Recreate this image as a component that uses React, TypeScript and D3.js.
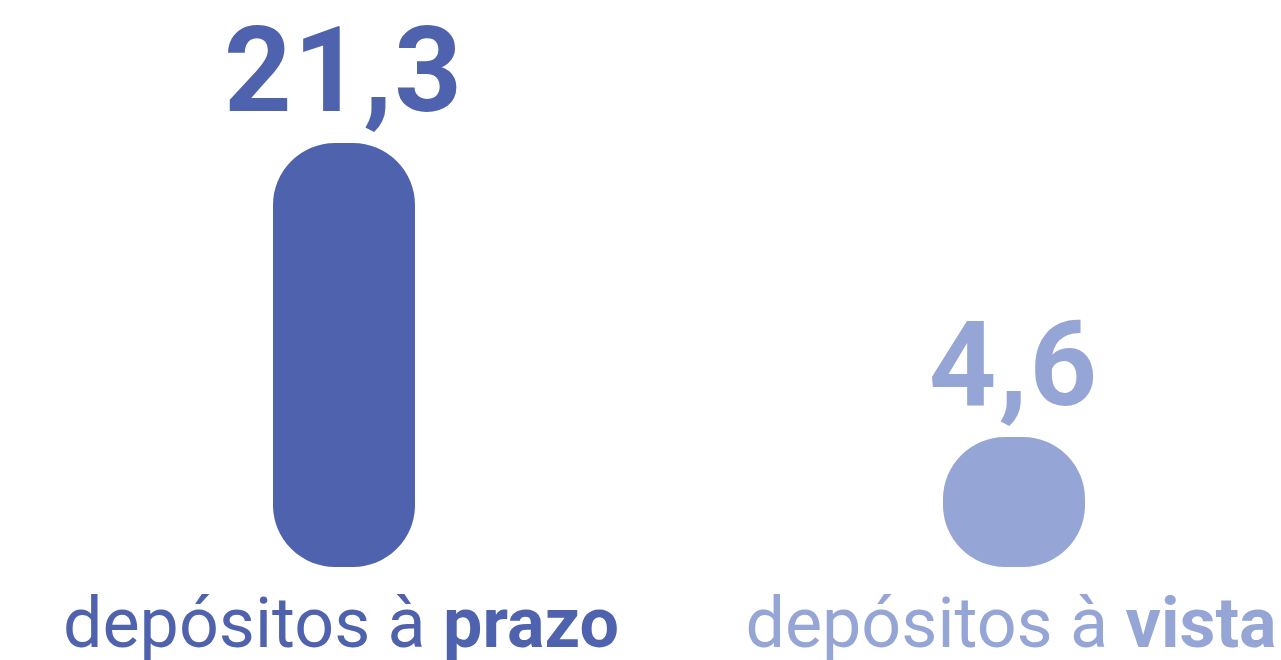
import React from "react";
import * as d3 from "d3";

const categories = ["prazo", "vista"];
const values = [21.3, 4.6];
const valueLabels = ["21,3", "4,6"];
const labelPrefix = "depósitos à ";
const colors = ["#4F62AD", "#95A5D5"];

const W = 1281;
const H = 660;
const baseY = 567;
const barW = 142;

export default function App() {
  const x = d3.scalePoint<string>().domain(categories).range([344, 1014]);
  const h = d3.scaleLinear().domain([0, 21.3]).range([49, 424]);
  return (
    <svg
      width={W}
      height={H}
      style={{ position: "absolute", left: 0, top: 0, background: "#fff" }}
      fontFamily="Roboto, sans-serif"
    >
      {categories.map((c, i) => {
        const cx = x(c)!;
        const bh = h(values[i]);
        const top = baseY - bh;
        return (
          <g key={c}>
            <rect
              x={cx - barW / 2}
              y={top}
              width={barW}
              height={bh}
              rx={62}
              ry={62}
              fill={colors[i]}
            />
            <text
              x={cx}
              y={top - 32}
              textAnchor="middle"
              fontSize={118}
              fontWeight={700}
              letterSpacing={2}
              fill={colors[i]}
            >
              {valueLabels[i]}
            </text>
            <text
              x={cx - 3}
              y={647}
              textAnchor="middle"
              fontSize={70}
              fill={colors[i]}
            >
              <tspan fontWeight={400}>{labelPrefix}</tspan>
              <tspan fontWeight={700}>{c}</tspan>
            </text>
          </g>
        );
      })}
    </svg>
  );
}
